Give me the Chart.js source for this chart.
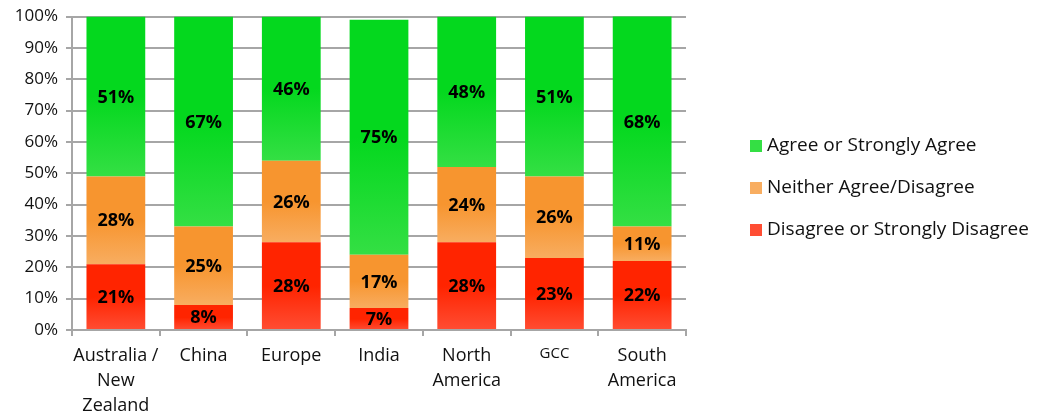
<!DOCTYPE html>
<html>
<head>
<meta charset="utf-8">
<script src="https://cdn.jsdelivr.net/npm/chart.js@4/dist/chart.umd.min.js"></script>
<style>
  html, body { margin: 0; padding: 0; background: #fff; }
  #wrap { width: 1039px; height: 415px; position: relative; }
</style>
</head>
<body>
<div id="wrap"><canvas id="surveyChart"></canvas></div>
<script>
const regions = [['Australia /', 'New', 'Zealand'], 'China', 'Europe', 'India', ['North', 'America'], 'GCC', ['South', 'America']];
const disagree = [21, 8, 28, 7, 28, 23, 22];
const neither = [28, 25, 26, 17, 24, 26, 11];
const agree = [51, 67, 46, 75, 48, 51, 68];
const seriesNames = ['Disagree or Strongly Disagree', 'Neither Agree/Disagree', 'Agree or Strongly Agree'];
const yTicks = [0, 10, 20, 30, 40, 50, 60, 70, 80, 90, 100];

const FONT = '"Open Sans", Lato, sans-serif';
// top colour, bottom colour of each band
const shades = [
  ['#ff2400', '#ff4d33'],
  ['#f7952f', '#f8ad60'],
  ['#04d81e', '#34df44']
];
const stacks = [disagree, neither, agree];

// vertical fade inside each segment: flat on top, lighter near the bottom
function segmentFill(ctx) {
  const chart = ctx.chart;
  const ds = ctx.datasetIndex;
  const [top, bottom] = shades[ds];
  if (!chart.chartArea || ctx.type !== 'data') return top;
  const y = chart.scales.y;
  let below = 0;
  for (let k = 0; k < ds; k++) below += stacks[k][ctx.dataIndex];
  const above = below + stacks[ds][ctx.dataIndex];
  const y0 = y.getPixelForValue(Math.min(above, 100));
  const y1 = y.getPixelForValue(below);
  if (!(y1 > y0)) return top;
  const g = chart.ctx.createLinearGradient(0, y0, 0, y1);
  g.addColorStop(0, top);
  g.addColorStop(0.5, top);
  g.addColorStop(1, bottom);
  return g;
}

const valueLabels = {
  id: 'valueLabels',
  afterDatasetsDraw(chart) {
    const c = chart.ctx;
    c.save();
    c.font = 'bold 18px ' + FONT;
    c.fillStyle = '#000';
    c.textAlign = 'center';
    c.textBaseline = 'middle';
    chart.data.datasets.forEach((ds, i) => {
      chart.getDatasetMeta(i).data.forEach((bar, j) => {
        const top = Math.max(bar.y, chart.chartArea.top);
        c.fillText(ds.data[j] + '%', bar.x, (top + bar.base) / 2 + 1);
      });
    });
    c.restore();
  }
};

const sideLegend = {
  id: 'sideLegend',
  afterDraw(chart) {
    const c = chart.ctx;
    c.save();
    c.font = '19px ' + FONT;
    c.textBaseline = 'middle';
    c.textAlign = 'left';
    const order = [2, 1, 0];
    order.forEach((ds, n) => {
      const yMid = 146 + n * 42;
      c.fillStyle = shades[ds][1];
      c.fillRect(750, yMid - 6, 12, 12);
      c.fillStyle = '#111';
      c.fillText(seriesNames[ds], 767, yMid);
    });
    c.restore();
  }
};

new Chart(document.getElementById('surveyChart'), {
  type: 'bar',
  data: {
    labels: regions,
    datasets: [
      { label: seriesNames[0], data: disagree, backgroundColor: segmentFill },
      { label: seriesNames[1], data: neither, backgroundColor: segmentFill },
      { label: seriesNames[2], data: agree, backgroundColor: segmentFill }
    ]
  },
  options: {
    responsive: true,
    maintainAspectRatio: false,
    animation: false,
    layout: { padding: { top: 7, right: 353, left: 0, bottom: 0 } },
    datasets: { bar: { barPercentage: 0.67, categoryPercentage: 1 } },
    plugins: { legend: { display: false }, tooltip: { enabled: false } },
    scales: {
      x: {
        stacked: true,
        afterFit(s) { s.height = 85; },
        border: { color: '#a6a6a6', width: 2 },
        grid: { offset: true, drawOnChartArea: false, color: '#a6a6a6', lineWidth: 2, tickLength: 6 },
        ticks: {
          color: '#111',
          padding: 7,
          autoSkip: false,
          minRotation: 0,
          maxRotation: 0,
          font(ctx) {
            const lbl = regions[ctx.index];
            return { family: FONT, size: lbl === 'GCC' ? 15 : 18, lineHeight: 1.4 };
          }
        }
      },
      y: {
        stacked: true,
        min: 0,
        max: 100,
        afterFit(s) { s.width = 72; },
        afterBuildTicks(s) { s.ticks = yTicks.map(v => ({ value: v })); },
        border: { color: '#a6a6a6', width: 2 },
        grid: { color: '#a6a6a6', lineWidth: 2, tickLength: 6 },
        ticks: {
          color: '#111',
          padding: 8,
          font: { family: FONT, size: 17, lineHeight: 1 },
          callback: v => v + '%'
        }
      }
    }
  },
  plugins: [valueLabels, sideLegend]
});
</script>
</body>
</html>
